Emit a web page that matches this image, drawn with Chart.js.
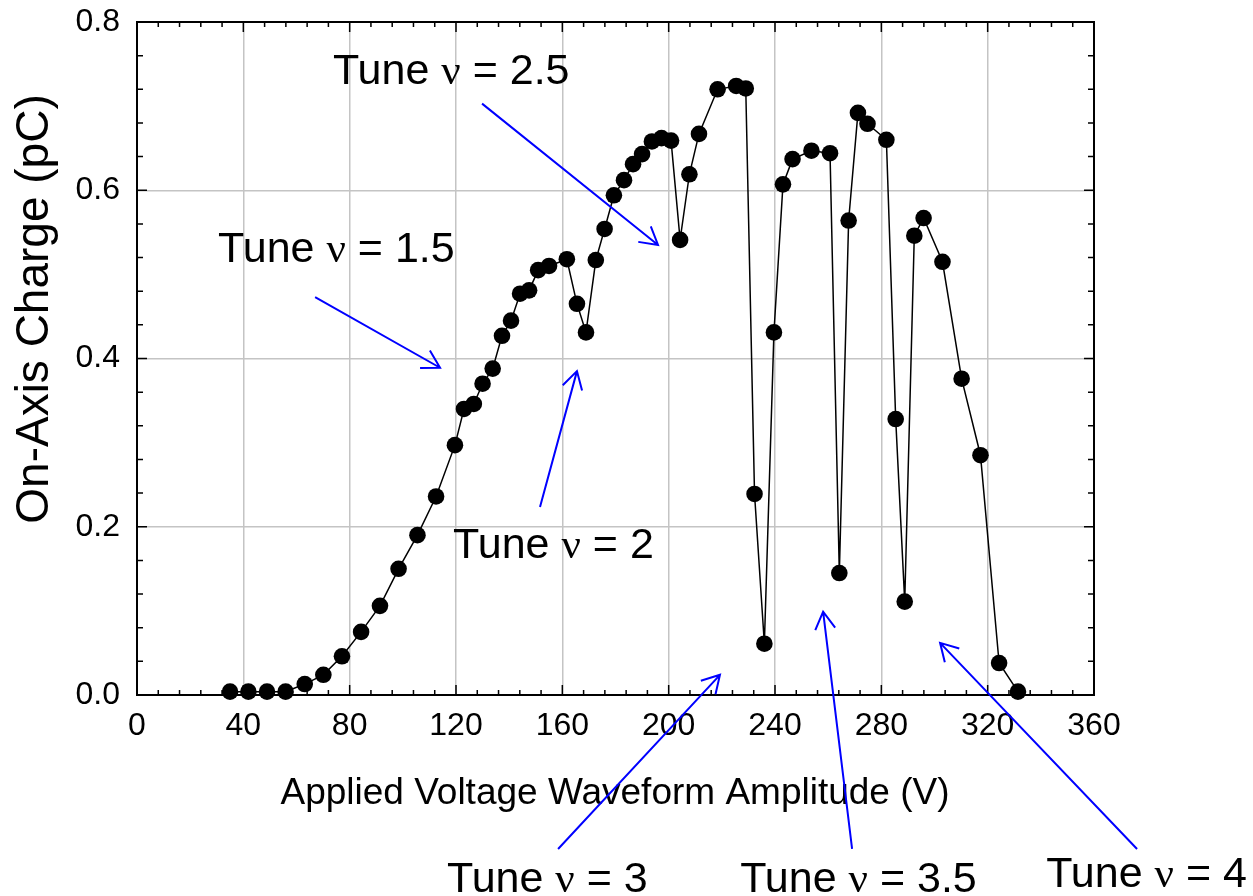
<!DOCTYPE html>
<html>
<head>
<meta charset="utf-8">
<script src="https://cdn.jsdelivr.net/npm/chart.js@4.4.1/dist/chart.umd.min.js"></script>
<style>
html,body{margin:0;padding:0;background:#fff;}
#wrap{width:1253px;height:896px;position:relative;}
canvas{display:block;}
</style>
</head>
<body>
<div id="wrap"><canvas id="c" width="1253" height="896"></canvas></div>
<script>
// ---- data ----
const voltage = [35,41.9,48.9,55.9,63.1,70.1,77.1,84.3,91.4,98.4,105.5,112.5,119.6,123,126.7,130,133.8,
  137.3,140.7,144.1,147.5,150.9,155,
  161.7,165.5,168.9,172.6,175.9,179.4,183.2,186.6,190,193.7,197.3,200.9,204.3,207.8,211.4,218.4,225.4,229,
  232.3,236,239.6,243,246.6,253.7,260.7,264.2,267.7,271.2,274.8,281.9,285.4,288.8,292.4,295.9,303,310.2,317.3,324.3,331.4];
const charge = [0.004,0.004,0.004,0.004,0.013,0.024,0.046,0.075,0.106,0.150,0.190,0.236,0.297,0.340,0.346,0.370,0.388,
  0.427,0.445,0.477,0.481,0.505,0.510,
  0.518,0.465,0.431,0.517,0.554,0.594,0.612,0.631,0.643,0.658,0.662,0.659,0.541,0.619,0.667,0.720,0.724,0.721,
  0.239,0.061,0.431,0.607,0.637,0.647,0.644,0.145,0.564,0.692,0.679,0.660,0.328,0.111,0.546,0.567,0.515,0.376,0.285,0.038,0.004];
const xTicks = [0,40,80,120,160,200,240,280,320,360];
const yTicks = [0.0,0.2,0.4,0.6,0.8];
const xTitle = 'Applied Voltage Waveform Amplitude (V)';
const yTitle = 'On-Axis Charge (pC)';
// annotation labels: text value, label anchor (data units), arrow tail and head (data units)
const tuneLabels = ['2.5','1.5','2','3','3.5','4'];
const labelAt = [[73.7,0.726],[30.5,0.515],[118.9,0.163],[116.6,-0.234],[226.9,-0.234],[342,-0.228]];
const arrowFrom = [[129.8,0.703],[67,0.473],[151.6,0.2235],[158.4,-0.183],[269,-0.183],[376.2,-0.183]];
const arrowTo = [[196,0.535],[114,0.389],[165.5,0.385],[219.3,0.024],[258.1,0.099],[302.1,0.062]];

const SANS = "'Liberation Sans', Arial, Helvetica, sans-serif";
const SERIF = "'Liberation Serif', 'Times New Roman', serif";

const deco = {
  id: 'deco',
  beforeDatasetsDraw(chart) {
    const {ctx, chartArea: a, scales: {x, y}} = chart;
    ctx.save();
    ctx.strokeStyle = '#000';
    ctx.lineWidth = 1.5;
    ctx.beginPath();
    for (let i = 0; i <= 45; i++) {
      const px = x.getPixelForValue(i * 8);
      const len = (i % 5 === 0) ? 10 : 5;
      ctx.moveTo(px, a.bottom); ctx.lineTo(px, a.bottom - len);
      ctx.moveTo(px, a.top); ctx.lineTo(px, a.top + len);
    }
    for (let i = 0; i <= 20; i++) {
      const py = y.getPixelForValue(i * 0.04);
      const len = (i % 5 === 0) ? 10 : 6;
      ctx.moveTo(a.left, py); ctx.lineTo(a.left + len, py);
      ctx.moveTo(a.right, py); ctx.lineTo(a.right - len, py);
    }
    ctx.stroke();
    ctx.lineWidth = 2;
    ctx.strokeRect(a.left, a.top, a.right - a.left, a.bottom - a.top);
    ctx.restore();
  },
  afterDraw(chart) {
    const {ctx, chartArea: a, scales: {x, y}} = chart;
    ctx.save();
    // axis titles
    ctx.fillStyle = '#000';
    ctx.font = '37px ' + SANS;
    ctx.textAlign = 'center';
    ctx.textBaseline = 'alphabetic';
    ctx.fillText(xTitle, 615, 804);
    ctx.save();
    ctx.translate(48, 309);
    ctx.rotate(-Math.PI / 2);
    ctx.font = '46px ' + SANS;
    ctx.fillText(yTitle, 0, 0);
    ctx.restore();
    // annotations
    ctx.strokeStyle = '#0000ff';
    ctx.lineWidth = 2;
    for (let i = 0; i < tuneLabels.length; i++) {
      const x0 = x.getPixelForValue(arrowFrom[i][0]), y0 = y.getPixelForValue(arrowFrom[i][1]);
      const x1 = x.getPixelForValue(arrowTo[i][0]), y1 = y.getPixelForValue(arrowTo[i][1]);
      ctx.beginPath();
      ctx.moveTo(x0, y0); ctx.lineTo(x1, y1);
      const ang = Math.atan2(y0 - y1, x0 - x1);
      const hl = 20, spread = Math.PI / 6;
      ctx.moveTo(x1 + hl * Math.cos(ang + spread), y1 + hl * Math.sin(ang + spread));
      ctx.lineTo(x1, y1);
      ctx.lineTo(x1 + hl * Math.cos(ang - spread), y1 + hl * Math.sin(ang - spread));
      ctx.stroke();
      // text
      let tx = x.getPixelForValue(labelAt[i][0]);
      const ty = y.getPixelForValue(labelAt[i][1]);
      ctx.textAlign = 'left';
      ctx.fillStyle = '#000';
      const parts = [['Tune ', SANS], ['\u03bd', SERIF], [' = ' + tuneLabels[i], SANS]];
      for (const [t, f] of parts) {
        ctx.font = '43px ' + f;
        ctx.fillText(t, tx, ty);
        tx += ctx.measureText(t).width;
      }
    }
    ctx.restore();
  }
};

new Chart(document.getElementById('c'), {
  type: 'scatter',
  data: {
    datasets: [{
      data: voltage.map((v, i) => ({x: v, y: charge[i]})),
      showLine: true,
      borderColor: '#000',
      borderWidth: 1.5,
      backgroundColor: '#000',
      pointBackgroundColor: '#000',
      pointBorderColor: '#000',
      pointBorderWidth: 0,
      pointRadius: 8.3,
      clip: false,
      tension: 0
    }]
  },
  options: {
    responsive: false,
    animation: false,
    devicePixelRatio: 1,
    layout: {padding: {left: 0, top: 22, right: 159, bottom: 0}},
    plugins: {legend: {display: false}, tooltip: {enabled: false}},
    scales: {
      x: {
        type: 'linear', min: 0, max: 360,
        afterBuildTicks: s => { s.ticks = xTicks.map(v => ({value: v})); },
        afterFit: s => { s.height = 201; s.paddingLeft = 0; s.paddingRight = 0; },
        border: {display: false},
        grid: {color: '#c4c4c4', lineWidth: 1.5, drawTicks: false},
        ticks: {color: '#000', padding: 12, maxRotation: 0, font: {family: SANS, size: 32}, callback: v => String(v)}
      },
      y: {
        type: 'linear', min: 0, max: 0.8,
        afterBuildTicks: s => { s.ticks = yTicks.map(v => ({value: v})); },
        afterFit: s => { s.width = 137; s.paddingTop = 0; s.paddingBottom = 0; },
        border: {display: false},
        grid: {color: '#c4c4c4', lineWidth: 1.5, drawTicks: false},
        ticks: {color: '#000', padding: 17, font: {family: SANS, size: 32}, callback: v => Number(v).toFixed(1)}
      }
    }
  },
  plugins: [deco]
});
</script>
</body>
</html>
